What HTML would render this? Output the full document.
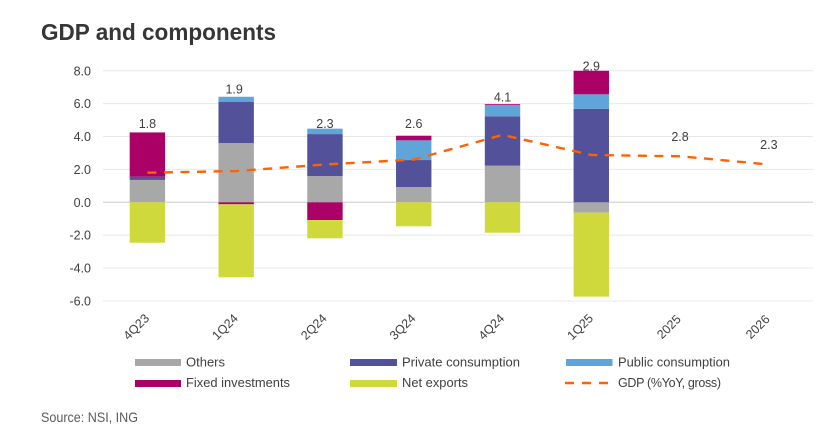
<!DOCTYPE html>
<html lang="en">
<head>
<meta charset="utf-8">
<title>GDP and components</title>
<style>
html,body{margin:0;padding:0;background:#fff;}
body{width:825px;height:446px;overflow:hidden;}
svg{display:block;font-family:"Liberation Sans",sans-serif;filter:blur(0.3px);}
.lbl{font-size:12.5px;fill:#404040;}
.leg{font-size:12.5px;fill:#404040;}
</style>
</head>
<body>
<svg id="chart" width="825" height="446" viewBox="0 0 825 446" xmlns="http://www.w3.org/2000/svg">
  <text x="41" y="40" font-size="23.5" font-weight="700" fill="#363636" textLength="235" lengthAdjust="spacingAndGlyphs">GDP and components</text>
  <g id="grid"></g>
  <g id="bars"></g>
  <g id="line"></g>
  <g id="values"></g>
  <g id="yaxis"></g>
  <g id="xaxis"></g>

  <g>
    <g>
      <rect x="135" y="359" width="46" height="7" fill="#a8a8a8"/>
      <text class="leg" x="186" y="366.5" textLength="39" lengthAdjust="spacingAndGlyphs">Others</text>
    </g>
    <g>
      <rect x="350" y="359" width="47" height="7" fill="#525199"/>
      <text class="leg" x="402" y="366.5" textLength="118" lengthAdjust="spacingAndGlyphs">Private consumption</text>
    </g>
    <g>
      <rect x="566" y="359" width="46.5" height="7" fill="#60a5da"/>
      <text class="leg" x="618" y="366.5" textLength="112" lengthAdjust="spacingAndGlyphs">Public consumption</text>
    </g>
    <g>
      <rect x="135" y="380" width="46" height="7" fill="#ab0066"/>
      <text class="leg" x="186" y="387" textLength="104" lengthAdjust="spacingAndGlyphs">Fixed investments</text>
    </g>
    <g>
      <rect x="350" y="380" width="47" height="7" fill="#d0d93c"/>
      <text class="leg" x="402" y="387" textLength="66" lengthAdjust="spacingAndGlyphs">Net exports</text>
    </g>
    <g>
      <line x1="565" y1="383" x2="608" y2="383" stroke="#ff6200" stroke-width="2.4" stroke-dasharray="9 8"/>
      <text class="leg" x="618" y="387" textLength="103" lengthAdjust="spacing">GDP (%YoY, gross)</text>
    </g>
  </g>

  <text x="41" y="422" font-size="14" fill="#5a5a5a" textLength="97" lengthAdjust="spacingAndGlyphs">Source: NSI, ING</text>
</svg>
<script>
const categories = ['4Q23','1Q24','2Q24','3Q24','4Q24','1Q25','2025','2026'];
const others = [1.36, 3.6, 1.6, 0.93, 2.23, -0.63, null, null];
const privateConsumption = [0.2, 2.52, 2.55, 1.64, 3.0, 5.69, null, null];
const publicConsumption = [0, 0.3, 0.33, 1.2, 0.69, 0.88, null, null];
const fixedInvestments = [2.69, -0.12, -1.08, 0.28, 0.05, 1.43, null, null];
const netExports = [-2.46, -4.44, -1.11, -1.46, -1.85, -5.11, null, null];
const gdp = [1.8, 1.9, 2.3, 2.6, 4.1, 2.88, 2.8, 2.3];
const gdpLabels = ['1.8','1.9','2.3','2.6','4.1','2.9','2.8','2.3'];
const yTicks = [8, 6, 4, 2, 0, -2, -4, -6];

const NS = 'http://www.w3.org/2000/svg';
const plotLeft = 103, plotRight = 813, bandWidth = 88.78, barWidth = 35.4;
const yZero = 202.3, yUnit = 16.44;
const xCenter = i => plotLeft + bandWidth * (i + 0.5);
const yScale = v => yZero - v * yUnit;

function make(tag, attrs, parent) {
  const el = document.createElementNS(NS, tag);
  for (const k in attrs) el.setAttribute(k, attrs[k]);
  parent.appendChild(el);
  return el;
}

const gridG = document.getElementById('grid');
const yG = document.getElementById('yaxis');
yTicks.forEach(t => {
  const gl = make('line', {x1: plotLeft, x2: plotRight, y1: yScale(t), y2: yScale(t),
    stroke: t === 0 ? '#d9d9d9' : '#e8e8e8', 'stroke-width': t === 0 ? 1.4 : 1}, gridG);
  
  
  const tl = make('text', {x: 91, y: yScale(t) + 4.5, 'text-anchor': 'end', class: 'lbl'}, yG);
  
  
  tl.textContent = t.toFixed(1);
});

const xG = document.getElementById('xaxis');
categories.forEach((c, i) => {
  const cx = xCenter(i) - 11, cy = 327;
  const tl = make('text', {x: cx, y: cy + 4, 'text-anchor': 'middle', class: 'lbl',
    transform: 'rotate(-45 ' + cx + ' ' + cy + ')'}, xG);
  
  
  tl.textContent = c;
});

const stackSeries = [
  {name: 'others', values: others, color: '#a8a8a8'},
  {name: 'private-consumption', values: privateConsumption, color: '#525199'},
  {name: 'public-consumption', values: publicConsumption, color: '#60a5da'},
  {name: 'fixed-investments', values: fixedInvestments, color: '#ab0066'},
  {name: 'net-exports', values: netExports, color: '#d0d93c'}
];
const barsG = document.getElementById('bars');
const tops = categories.map(() => 0);
const bottoms = categories.map(() => 0);
stackSeries.forEach(s => {
  s.values.forEach((v, i) => {
    if (v === null || v === 0) return;
    let from, to;
    if (v > 0) { from = tops[i]; to = from + v; tops[i] = to; }
    else { from = bottoms[i]; to = from + v; bottoms[i] = to; }
    const r = make('rect', {x: xCenter(i) - barWidth / 2, y: Math.min(yScale(from), yScale(to)),
      width: barWidth, height: Math.abs(yScale(to) - yScale(from)), fill: s.color}, barsG);
    
    
  });
});

const lineG = document.getElementById('line');
const gdpPath = make('polyline', {
  points: gdp.map((v, i) => xCenter(i) + ',' + yScale(v)).join(' '),
  fill: 'none', stroke: '#ff6200', 'stroke-width': 2.4, 'stroke-dasharray': '9 7.55'}, lineG);



const labelLift = [9, 8, 5, 12, 7, 5, 20, 20];
const valG = document.getElementById('values');
gdpLabels.forEach((txt, i) => {
  const anchor = tops[i] > 0 ? yScale(tops[i]) : yScale(gdp[i]);
  const t = make('text', {x: xCenter(i) + (i === 1 ? -2 : 0), y: anchor - labelLift[i] + 4.5,
    'text-anchor': 'middle', class: 'lbl'}, valG);
  
  
  t.textContent = txt;
});
</script>
</body>
</html>
